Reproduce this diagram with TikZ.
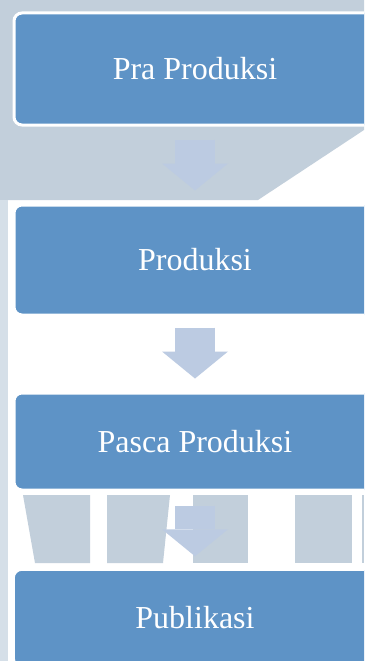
\documentclass[tikz,border=0pt]{standalone}
\usepackage{fontspec}
\setmainfont{Liberation Serif}
\usetikzlibrary{arrows.meta}
\definecolor{boxblue}{HTML}{5E93C6}
\definecolor{arrowblue}{HTML}{BCCBE2}
\definecolor{markgray}{HTML}{C2CFDB}
\definecolor{marklight}{HTML}{D5DFE8}
\tikzset{flow/.style={draw=arrowblue,line width=40pt,
	-{Triangle[width=66pt,length=27pt,line width=0pt,fill=arrowblue]}}}
\begin{document}
\begin{tikzpicture}[x=1pt,y=-1pt]
		\useasboundingbox (0,0) rectangle (364,661);
		\clip (0,0) rectangle (364,661);
		
		% background marks
		\fill[white] (0,0) rectangle (364,661);
		\fill[markgray] (0,0) -- (364,0) -- (364,130) -- (258,200) -- (0,200) -- cycle;
		\fill[marklight] (0,200) rectangle (8,661);
		\fill[markgray] (23,495) -- (90,495) -- (90,563) -- (35,563) -- cycle;
		\fill[markgray] (107,495) -- (170,495) -- (163,563) -- (107,563) -- cycle;
		\fill[markgray] (193,495) rectangle (248,563);
		\fill[markgray] (295,495) rectangle (352,563);
		\fill[markgray] (362,495) rectangle (364,563);
		
		\begin{scope}[every node/.style={rectangle,rounded corners=8pt,
			draw=white,line width=3pt,fill=boxblue,text=white,
			font=\fontsize{32}{38}\selectfont,minimum width=362pt}]
		\node[minimum height=112pt] (A) at (195,69) {Pra Produksi};
		\node[minimum height=110pt] (B) at (195,260) {Produksi};
		\node[minimum height=97pt] (C) at (195,441.5) {Pasca Produksi};
		\node[minimum height=96pt,line width=1.5pt] (D) at (195,618) {Publikasi};
		\end{scope}
		
		\draw[flow] ([yshift=-13pt]A.south) -- ([yshift=13pt]B.north);
		\draw[flow] ([yshift=-11pt]B.south) -- ([yshift=13pt]C.north);
		\draw[flow] ([yshift=-14pt]C.south) -- ([yshift=13pt]D.north);
		\end{tikzpicture}
\end{document}
